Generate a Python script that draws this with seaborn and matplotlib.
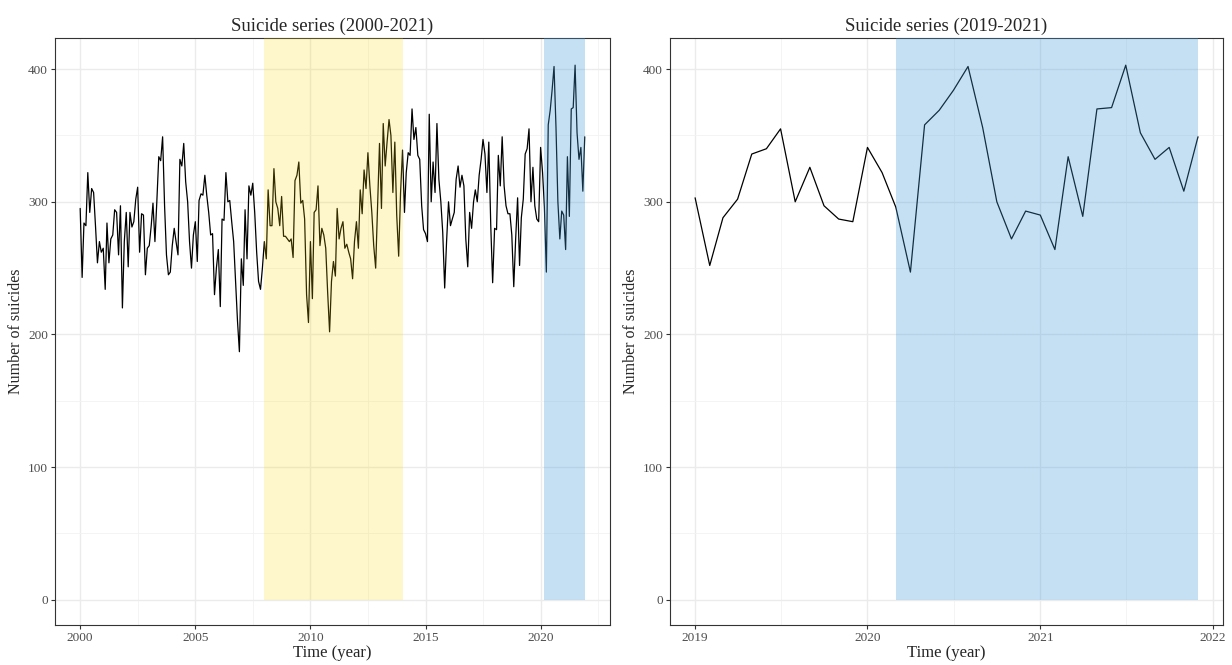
import numpy as np
import pandas as pd
import matplotlib
matplotlib.use("Agg")
import matplotlib.pyplot as plt
import matplotlib.dates as mdates
from matplotlib.ticker import FixedLocator, MultipleLocator
import seaborn as sns

# Monthly number of suicides, Jan 2000 - Dec 2021
suicides_2000_2021 = [
    295, 243, 284, 282, 322, 292, 310, 307, 281, 254, 270, 262,  # 2000
    265, 234, 284, 254, 272, 275, 294, 292, 260, 297, 220, 270,  # 2001
    292, 251, 292, 281, 285, 302, 311, 262, 291, 290, 245, 265,  # 2002
    267, 282, 299, 270, 300, 334, 331, 349, 297, 260, 245, 247,  # 2003
    267, 280, 270, 260, 332, 327, 344, 315, 300, 270, 250, 275,  # 2004
    285, 255, 301, 306, 305, 320, 305, 292, 275, 276, 230, 250,  # 2005
    264, 221, 287, 286, 322, 300, 301, 285, 270, 240, 210, 187,  # 2006
    257, 237, 294, 257, 312, 305, 314, 292, 262, 240, 234, 250,  # 2007
    270, 257, 309, 282, 282, 325, 300, 295, 282, 304, 274, 274,  # 2008
    272, 270, 272, 258, 316, 320, 330, 299, 301, 287, 230, 209,  # 2009
    270, 227, 292, 294, 312, 267, 280, 275, 265, 232, 202, 240,  # 2010
    255, 244, 295, 272, 280, 285, 265, 268, 262, 257, 242, 270,  # 2011
    285, 265, 309, 291, 324, 310, 337, 312, 292, 267, 250, 295,  # 2012
    344, 295, 359, 327, 345, 362, 350, 307, 345, 290, 259, 307,  # 2013
    339, 292, 322, 337, 335, 370, 347, 356, 335, 332, 297, 279,  # 2014
    276, 270, 366, 300, 330, 307, 359, 317, 300, 277, 235, 270,  # 2015
    300, 282, 287, 292, 317, 327, 311, 320, 312, 272, 251, 292,  # 2016
    280, 300, 309, 300, 320, 332, 347, 336, 307, 345, 282, 239,  # 2017
    280, 279, 335, 312, 349, 312, 297, 291, 291, 275, 236, 272,  # 2018
    303, 252, 288, 302, 336, 340, 355, 300, 326, 297, 287, 285,  # 2019
    341, 322, 296, 247, 358, 369, 384, 402, 356, 300, 272, 293,  # 2020
    290, 264, 334, 289, 370, 371, 403, 352, 332, 341, 308, 349,  # 2021
]
start_month = "2000-01-01"
zoom_start = "2019-01-01"

# shaded periods
crisis_period = ("2008-01-01", "2014-01-01")
covid_period = ("2020-03-01", "2021-12-01")

titles = ["Suicide series (2000-2021)", "Suicide series (2019-2021)"]
x_label = "Time (year)"
y_label = "Number of suicides"

df = pd.DataFrame({
    "date": pd.date_range(start_month, periods=len(suicides_2000_2021), freq="MS"),
    "suicides": suicides_2000_2021,
})
df_zoom = df[df["date"] >= zoom_start]

sns.set_style("white")
plt.rcParams["font.family"] = ["Liberation Serif", "DejaVu Serif"]

fig = plt.figure(figsize=(12.32, 6.65), dpi=100)
ax1 = fig.add_axes([0.0446, 0.0602, 0.4505, 0.8827])
ax2 = fig.add_axes([0.5438, 0.0602, 0.449, 0.8827])


def style_axis(ax, data, shades, major_years, minor_dates, title):
    sns.lineplot(data=data, x="date", y="suicides", ax=ax,
                 color="black", linewidth=0.9, zorder=3)
    for (x0, x1), col, alpha in shades:
        ax.fill_between([pd.Timestamp(x0), pd.Timestamp(x1)], 0, 1000,
                        color=col, alpha=alpha, linewidth=0, zorder=4)
    # ggplot-like 5% expansion
    d0, d1 = data["date"].min(), data["date"].max()
    pad = (d1 - d0) * 0.05
    ax.set_xlim(d0 - pad, d1 + pad)
    ax.set_ylim(-19, 423.5)
    ax.xaxis.set_major_locator(FixedLocator(
        [mdates.date2num(pd.Timestamp(f"{y}-01-01")) for y in major_years]))
    ax.xaxis.set_minor_locator(FixedLocator(
        [mdates.date2num(pd.Timestamp(d)) for d in minor_dates]))
    ax.xaxis.set_major_formatter(mdates.DateFormatter("%Y"))
    ax.yaxis.set_major_locator(MultipleLocator(100))
    ax.yaxis.set_minor_locator(FixedLocator([50, 150, 250, 350]))
    ax.grid(which="major", color="#EBEBEB", linewidth=1.0, zorder=0)
    ax.grid(which="minor", color="#F2F2F2", linewidth=0.6, zorder=0)
    ax.set_axisbelow(True)
    for s in ax.spines.values():
        s.set_color("#333333")
        s.set_linewidth(0.8)
    ax.tick_params(which="major", direction="out", length=3, width=0.8,
                   color="#333333", labelcolor="#4D4D4D", labelsize=9.5,
                   bottom=True, left=True, pad=2)
    ax.tick_params(which="minor", length=0)
    ax.set_title(title, fontsize=13.5, pad=5)
    ax.set_xlabel(x_label, fontsize=12, labelpad=1)
    ax.set_ylabel(y_label, fontsize=11.5, labelpad=3)


style_axis(
    ax1, df,
    [(crisis_period, "#FFD700", 0.2), (covid_period, "#4198DA", 0.3)],
    range(2000, 2021, 5),
    ["2002-07-02", "2007-07-02", "2012-07-02", "2017-07-02", "2022-07-02"],
    titles[0],
)
style_axis(
    ax2, df_zoom,
    [(covid_period, "#4198DA", 0.3)],
    range(2019, 2023),
    ["2019-07-02", "2020-07-02", "2021-07-02"],
    titles[1],
)

fig.savefig("out.png", dpi=100)
